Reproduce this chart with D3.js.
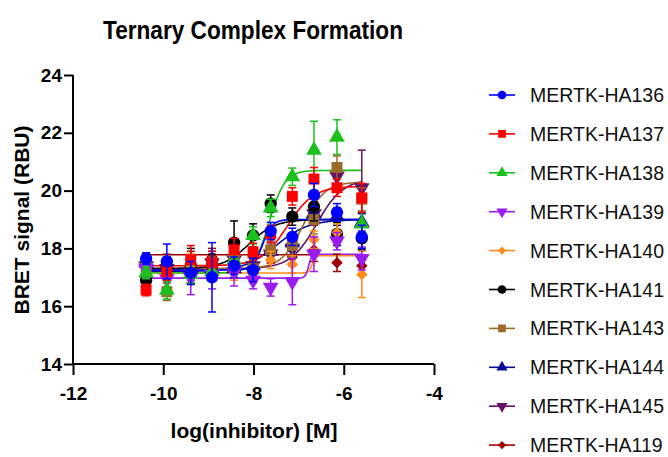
<!DOCTYPE html>
<html>
<head>
<meta charset="utf-8">
<script src="https://cdn.jsdelivr.net/npm/d3@7"></script>
<style>
  body { margin: 0; background: #fff; }
  text { font-family: "Liberation Sans", Arial, sans-serif; }
</style>
</head>
<body>
<div id="chart"></div>
<script>
// log concentrations (x) shared by every series
const logConc = [-10.38, -9.92, -9.39, -8.92, -8.43, -8.01, -7.62, -7.14, -6.66, -6.15, -5.6];

const seriesNames = ["MERTK-HA136", "MERTK-HA137", "MERTK-HA138", "MERTK-HA139", "MERTK-HA140",
  "MERTK-HA141", "MERTK-HA143", "MERTK-HA144", "MERTK-HA145", "MERTK-HA119"];

// mean BRET values per series
const ha136 = [17.65, 17.55, 17.15, 17.0, 17.4, 17.25, 18.6, 18.4, 19.85, 19.25, 18.4];
const ha137 = [16.56, 17.2, 17.6, 17.5, 17.95, 17.88, 18.5, 19.8, 20.4, 20.1, 19.75];
const ha138 = [17.15, 16.55, 17.1, 17.2, 17.6, 18.45, 19.4, 20.48, 21.4, 21.85, 18.85];
const ha139 = [17.3, 16.95, 17.0, 17.1, 17.2, 16.9, 16.65, 16.85, 17.8, 18.25, 17.65];
const ha140 = [17.3, 17.25, 17.4, 17.2, 17.2, 17.1, 17.6, 17.45, 18.3, 18.55, 17.1];
const ha141 = [16.9, 17.3, 17.4, 17.4, 18.2, 18.45, 19.55, 19.1, 19.45, 18.5, 18.35];
const ha143 = [17.35, 16.5, 17.3, 17.3, 17.6, 17.3, 17.95, 18.1, 19.0, 20.8, 19.7];
const ha144 = [17.5, 17.4, 17.3, 17.3, 17.3, 17.4, 17.9, 18.2, 19.2, 19.1, 18.9];
const ha145 = [17.4, 17.3, 17.2, 17.5, 17.6, 17.4, 17.8, 18.0, 19.2, 20.5, 20.1];
const ha119 = [17.5, 17.5, 17.6, 17.7, 17.8, 17.7, 17.8, 17.7, 17.95, 17.5, 17.4];

// SEM per point
const err136 = [0.2, 0.6, 0.4, 1.2, 0.3, 0.4, 0.3, 0.3, 0.4, 0.3, 0.4];
const err137 = [0.2, 0.3, 0.5, 0.4, 0.4, 0.3, 0.3, 0.3, 0.4, 0.3, 0.5];
const err138 = [0.2, 0.3, 0.3, 0.3, 0.3, 0.3, 0.3, 0.3, 1.0, 0.6, 0.4];
const err139 = [0.3, 0.3, 0.6, 0.5, 0.5, 0.3, 0.3, 0.8, 0.6, 0.3, 0.4];
const err140 = [0.3, 0.3, 0.4, 0.3, 0.3, 0.3, 0.3, 0.3, 0.3, 0.3, 0.8];
const err141 = [0.2, 0.3, 0.6, 0.4, 0.75, 0.4, 0.3, 0.3, 0.5, 0.4, 0.4];
const err143 = [0.3, 0.3, 0.5, 0.4, 0.4, 0.3, 0.3, 0.4, 0.5, 0.4, 0.4];
const err144 = [0.3, 0.3, 0.4, 0.3, 0.3, 0.3, 0.3, 0.3, 0.3, 0.3, 0.3];
const err145 = [0.3, 0.3, 0.4, 0.4, 0.3, 0.3, 0.3, 0.3, 0.4, 0.4, 1.3];
const err119 = [0.3, 0.3, 0.3, 0.3, 0.3, 0.3, 0.3, 0.3, 0.4, 0.3, 0.3];

// 4PL fit parameters: bottom, top, logEC50, hill
const fitBottom = [17.25, 17.4, 17.15, 16.97, 17.15, 17.3, 17.3, 17.2, 17.3, 17.78];
const fitTop = [19.0, 20.15, 20.7, 17.8, 17.75, 19.0, 20.3, 19.0, 20.4, 17.78];
const fitEC50 = [-7.8, -7.25, -7.65, -6.78, -6.7, -8.1, -6.9, -7.5, -6.6, -7.5];
const fitHill = [4, 1.5, 2.5, 12, 12, 1.5, 1.8, 1.2, 1.5, 1];

const colors = ["#0000ff", "#ff0000", "#1cc01c", "#9b1cf0", "#ff8c1a",
  "#000000", "#9c6a2a", "#0a0a99", "#66106a", "#a00000"];
const shapes = ["circle", "square", "triangle", "triangleDown", "diamond",
  "circle", "square", "triangle", "triangleDown", "diamond"];

const xTicks = [-12, -10, -8, -6, -4];
const yTicks = [14, 16, 18, 20, 22, 24];

const means = [ha136, ha137, ha138, ha139, ha140, ha141, ha143, ha144, ha145, ha119];
const errs = [err136, err137, err138, err139, err140, err141, err143, err144, err145, err119];

const width = 668, height = 457;
const svg = d3.select("#chart").append("svg")
  .attr("width", width).attr("height", height);

const x = d3.scaleLinear().domain([-12, -4]).range([73, 434]);
const y = d3.scaleLinear().domain([14, 24]).range([364, 75]);

function symbolPath(shape, size) {
  if (shape === "circle") return d3.symbol(d3.symbolCircle, size)();
  if (shape === "square") return d3.symbol(d3.symbolSquare, size)();
  if (shape === "diamond") return d3.symbol(d3.symbolSquare, size * 0.55)();
  return d3.symbol(d3.symbolTriangle, size * 0.9)();
}
function symbolRot(shape) {
  if (shape === "triangleDown") return 180;
  if (shape === "diamond") return 45;
  return 0;
}

// title
svg.append("text")
  .attr("x", 253).attr("y", 39)
  .attr("text-anchor", "middle")
  .attr("font-size", 26).attr("font-weight", "bold")
  .attr("textLength", 300).attr("lengthAdjust", "spacingAndGlyphs")
  .text("Ternary Complex Formation");

// axes
const xAxis = d3.axisBottom(x).tickValues(xTicks).tickSize(11).tickPadding(12).tickFormat(d => String(d));
const yAxis = d3.axisLeft(y).tickValues(yTicks).tickSize(9).tickPadding(2).tickFormat(d => String(d));

const gx = svg.append("g").attr("transform", `translate(0, ${y(14)})`).call(xAxis);
const gy = svg.append("g").attr("transform", `translate(${x(-12)}, 0)`).call(yAxis);
[gx, gy].forEach(g => {
  g.select(".domain").attr("stroke", "#000").attr("stroke-width", 2);
  g.selectAll(".tick line").attr("stroke", "#000").attr("stroke-width", 2);
  g.selectAll(".tick text").attr("fill", "#000")
    .attr("font-size", 19).attr("font-weight", "bold")
    .attr("font-family", "Liberation Sans, Arial, sans-serif");
});
gx.select(".domain").attr("d", `M${x(-12)},0H${x(-4)}`);
gy.select(".domain").attr("d", `M0,${y(14)}V${y(24)}`);

svg.append("text")
  .attr("x", 254).attr("y", 438)
  .attr("text-anchor", "middle")
  .attr("font-size", 21).attr("font-weight", "bold")
  .text("log(inhibitor) [M]");

svg.append("text")
  .attr("transform", `translate(29, 220) rotate(-90)`)
  .attr("text-anchor", "middle")
  .attr("font-size", 21).attr("font-weight", "bold")
  .text("BRET signal (RBU)");

// plot series, first series drawn last (on top)
const plot = svg.append("g");
const curveX = d3.range(0, 201).map(i => logConc[0] + (logConc[logConc.length - 1] - logConc[0]) * i / 200);
const line = d3.line().x(d => x(d[0])).y(d => y(d[1]));

const order = d3.range(seriesNames.length).reverse();

order.forEach(i => {
  const b = fitBottom[i], t = fitTop[i], e = fitEC50[i], h = fitHill[i];
  const pts = curveX.map(v => [v, b + (t - b) / (1 + Math.pow(10, (e - v) * h))]);
  plot.append("path")
    .attr("d", line(pts))
    .attr("fill", "none")
    .attr("stroke", colors[i])
    .attr("stroke-width", 1.6);
});

order.forEach(i => {
  const g = plot.append("g");
  logConc.forEach((lx, k) => {
    const m = means[i][k], s = errs[i][k];
    const cx = x(lx);
    g.append("line").attr("x1", cx).attr("x2", cx)
      .attr("y1", y(m - s)).attr("y2", y(m + s))
      .attr("stroke", colors[i]).attr("stroke-width", 1.5);
    [m - s, m + s].forEach(v => {
      g.append("line").attr("x1", cx - 4).attr("x2", cx + 4)
        .attr("y1", y(v)).attr("y2", y(v))
        .attr("stroke", colors[i]).attr("stroke-width", 1.5);
    });
    g.append("path")
      .attr("d", symbolPath(shapes[i], 120))
      .attr("transform", `translate(${cx}, ${y(m)}) rotate(${symbolRot(shapes[i])})`)
      .attr("fill", colors[i]);
  });
});

// legend
const legend = svg.append("g");
seriesNames.forEach((name, i) => {
  const ly = 95 + i * 38.9;
  legend.append("line")
    .attr("x1", 489).attr("x2", 515).attr("y1", ly).attr("y2", ly)
    .attr("stroke", colors[i]).attr("stroke-width", 1.6);
  legend.append("path")
    .attr("d", symbolPath(shapes[i], 60))
    .attr("transform", `translate(502, ${ly}) rotate(${symbolRot(shapes[i])})`)
    .attr("fill", colors[i]);
  legend.append("text")
    .attr("x", 530).attr("y", ly + 7)
    .attr("font-size", 19.5)
    .attr("fill", "#111")
    .text(name);
});
</script>
</body>
</html>
